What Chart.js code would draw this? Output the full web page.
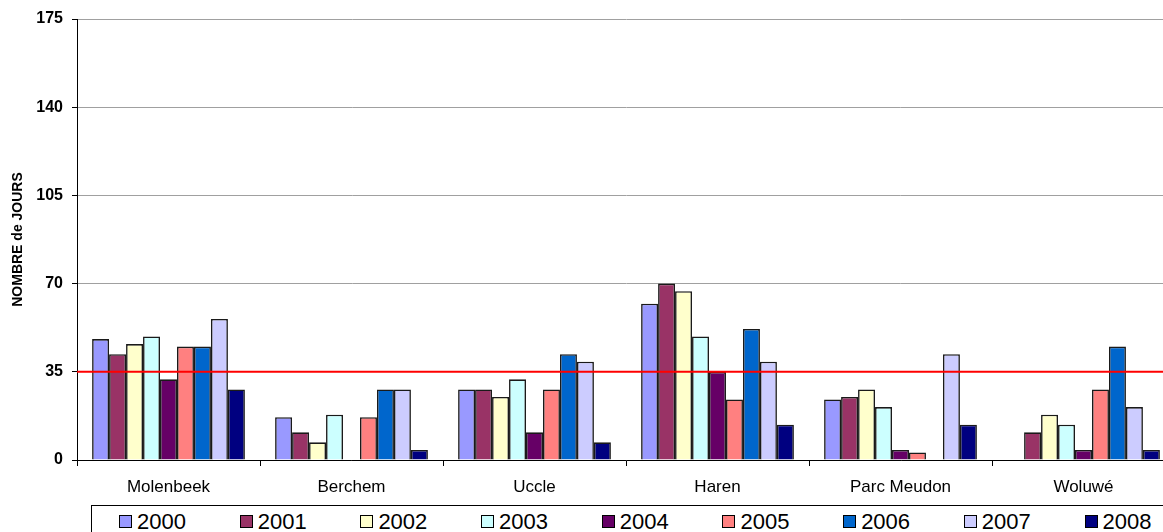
<!DOCTYPE html>
<html>
<head>
<meta charset="utf-8">
<title>Nombre de jours</title>
<script src="https://cdn.jsdelivr.net/npm/chart.js@4/dist/chart.umd.min.js"></script>
<style>
	html, body { margin: 0; padding: 0; background: #fff; width: 1163px; height: 532px; overflow: hidden; position: relative; }
	#chartBox { position: absolute; left: 0; top: 0; width: 1175px; height: 517px; }
	#legendBox {
		position: absolute; left: 91px; top: 505px; width: 1100px; height: 40px;
		box-sizing: border-box; border: 1px solid #000; padding-left: 27px;
		display: flex; align-items: flex-start; background: #fff;
		font-family: Arial, 'Liberation Sans', sans-serif; font-size: 22px; color: #000;
	}
	.legendItem { flex: 0 0 120.7px; height: 31px; display: flex; align-items: center; }
	.legendSwatch { width: 13px; height: 13px; box-sizing: border-box; border: 1px solid #000; margin-right: 5px; }
</style>
</head>
<body>
<div id="chartBox"><canvas id="joursChart"></canvas></div>
<div id="legendBox"></div>
<script>
const siteLabels = ['Molenbeek', 'Berchem', 'Uccle', 'Haren', 'Parc Meudon', 'Woluwé'];
const yearLabels = ['2000', '2001', '2002', '2003', '2004', '2005', '2006', '2007', '2008'];

// nombre de jours par station, une liste par année
const days2000 = [48, 17, 28, 62, 24, 0];
const days2001 = [42, 11, 28, 70, 25, 11];
const days2002 = [46, 7, 25, 67, 28, 18];
const days2003 = [49, 18, 32, 49, 21, 14];
const days2004 = [32, 0, 11, 35, 4, 4];
const days2005 = [45, 17, 28, 24, 3, 28];
const days2006 = [45, 28, 42, 52, 0, 45];
const days2007 = [56, 28, 39, 39, 42, 21];
const days2008 = [28, 4, 7, 14, 14, 4];

const yearColors = ['#9999FF', '#993366', '#FFFFCC', '#CCFFFF', '#660066', '#FF8080', '#0066CC', '#CCCCFF', '#000080'];

const limitDays = 35;
const yMin = 0;
const yMax = 175;
const yStep = 35;

function addJoursChart() {

	let series = [days2000, days2001, days2002, days2003, days2004, days2005, days2006, days2007, days2008];

	let datasets = yearLabels.map(function(year, i) {
		return {
			label: year,
			data: series[i],
			backgroundColor: yearColors[i],
			borderColor: '#1a1a1a',
			borderWidth: 1.6,
			categoryPercentage: 0.835,
			barPercentage: 1.0,
		};
	});

	let ctx = document.getElementById('joursChart').getContext('2d');
	let myBarChart = new Chart(ctx, {
		type: 'bar',
		data: {
			labels: siteLabels,
			datasets: datasets,
		},
		options: {
			responsive: true,
			maintainAspectRatio: false,
			animation: false,
			layout: {
				padding: { top: 19, right: 0, bottom: 8.6, left: 0 },
			},
			plugins: {
				legend: { display: false },
				tooltip: { enabled: false },
			},
			scales: {
				x: {
					offset: true,
					grid: {
						display: true,
						drawOnChartArea: false,
						drawTicks: true,
						tickLength: 6,
						color: '#000000',
					},
					border: { display: true, color: '#000000', width: 1 },
					ticks: {
						color: '#000000',
						padding: 11,
						font: { family: "Arial, 'Liberation Sans', sans-serif", size: 17 },
					},
				},
				y: {
					min: yMin,
					max: yMax,
					afterFit: function(scale) {
						scale.width = 77;
					},
					ticks: {
						stepSize: yStep,
						color: '#000000',
						padding: 9,
						font: { family: "Arial, 'Liberation Sans', sans-serif", size: 16, weight: 'bold' },
					},
					grid: {
						color: '#A0A0A0',
						tickColor: '#000000',
						tickLength: 5,
					},
					border: { display: true, color: '#000000', width: 1 },
					title: {
						display: true,
						text: 'NOMBRE de JOURS',
						color: '#000000',
						padding: { top: 10, bottom: 0 },
						font: { family: "Arial, 'Liberation Sans', sans-serif", size: 14, weight: 'bold' },
					},
				},
			},
		},
		plugins: [limitLinePlugin, htmlLegendPlugin],
	});

}

// ligne rouge de la valeur limite
const limitLinePlugin = {
	id: 'limitLine',
	afterDatasetsDraw: function(chart) {
		let area = chart.chartArea;
		let y = chart.scales.y.getPixelForValue(limitDays);
		let ctx = chart.ctx;
		ctx.save();
		ctx.strokeStyle = '#FF0000';
		ctx.lineWidth = 2;
		ctx.beginPath();
		ctx.moveTo(area.left, y);
		ctx.lineTo(area.right, y);
		ctx.stroke();
		ctx.restore();
	},
};

const htmlLegendPlugin = {
	id: 'htmlLegend',
	afterUpdate: function(chart) {
		let box = document.getElementById('legendBox');
		box.innerHTML = '';
		let items = Chart.defaults.plugins.legend.labels.generateLabels(chart);
		items.forEach(function(item) {
			let el = document.createElement('div');
			el.className = 'legendItem';
			let swatch = document.createElement('span');
			swatch.className = 'legendSwatch';
			swatch.style.background = item.fillStyle;
			let txt = document.createElement('span');
			txt.textContent = item.text;
			el.appendChild(swatch);
			el.appendChild(txt);
			box.appendChild(el);
		});
	},
};

addJoursChart();
</script>
</body>
</html>
